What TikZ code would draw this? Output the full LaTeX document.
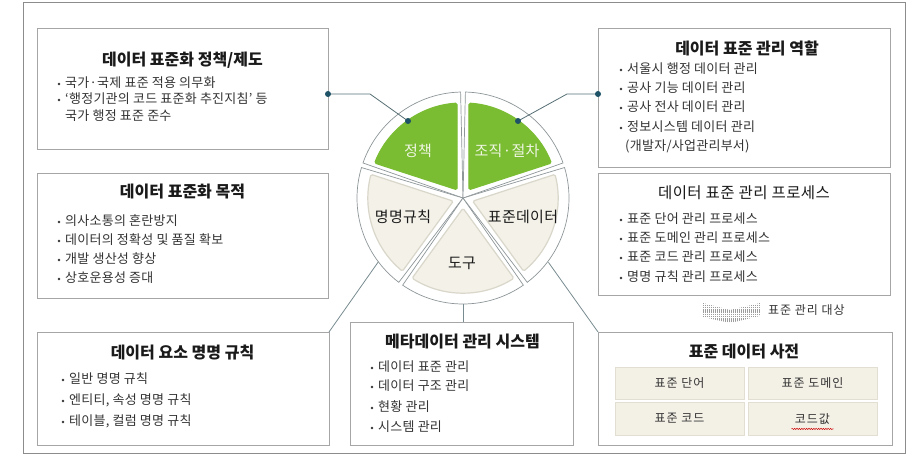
\documentclass[tikz,border=0pt]{standalone}
\usepackage{fontspec}
\setmainfont{Noto Sans CJK KR}
\newfontfamily\krbody[LetterSpace=2]{Noto Sans CJK KR}
\newfontfamily\krttl[LetterSpace=3]{Noto Sans CJK KR}
\newfontfamily\krwide[LetterSpace=8]{Noto Sans CJK KR}
\usetikzlibrary{calc,decorations.pathmorphing}
\definecolor{framecol}{HTML}{8C8C8C}
\definecolor{boxcol}{HTML}{A6A6A6}
\definecolor{txtcol}{HTML}{333333}
\definecolor{titlecol}{HTML}{1A1A1A}
\definecolor{pgreen}{HTML}{7ABC32}
\definecolor{pbeige}{HTML}{F3F1E8}
\definecolor{pbeigeedge}{HTML}{D9D6CA}
\definecolor{sectline}{HTML}{8E9699}
\definecolor{conncol}{HTML}{566E74}
\definecolor{dotcol}{HTML}{1E5266}
\definecolor{cellfill}{HTML}{F3F0E6}
\definecolor{celledge}{HTML}{E2DED2}
\definecolor{hatchcol}{HTML}{9C9C9C}
\definecolor{greentxt}{HTML}{EEF6E2}
\tikzset{
  panel/.style={draw=boxcol, line width=0.8pt, fill=white, inner sep=0pt, outer sep=0pt},
  ttl/.style={font=\fontsize{16}{18}\selectfont\bfseries, text=titlecol, inner sep=0pt},
  ttlreg/.style={font=\krttl\fontsize{15.5}{17}\selectfont, text=titlecol, inner sep=0pt},
  body/.style={font=\krbody\fontsize{13}{15}\selectfont, text=txtcol, inner sep=0pt, anchor=west, text height=0.85em, text depth=0.1em},
  pielbl/.style={font=\krbody\fontsize{15}{17}\selectfont, inner sep=0pt},
  cellbox/.style={draw=celledge, fill=cellfill, line width=0.8pt, inner sep=0pt, minimum width=129pt},
  celltxt/.style={font=\krwide\fontsize{12}{14}\selectfont, text=txtcol},
  conn/.style={draw=conncol, line width=0.8pt},
  sectorouter/.style={draw=sectline, line width=0.7pt, fill=white},
}
\newcommand\bitem[4]{\node[body] (#1) at (#2,#3) {#4};
  \fill[txtcol] ([xshift=-6pt]#1.west) circle (1.3pt);}
\begin{document}
\begin{tikzpicture}[x=1pt,y=1pt]
\useasboundingbox (0,0) rectangle (910,464);
\draw[framecol, line width=1pt] (23,11) rectangle (905,461);

% ---- boxes ----
\node[panel, minimum width=291pt, minimum height=121pt] (b1) at (182.5,375.5) {};
\node[panel, minimum width=291pt, minimum height=125pt] (b2) at (182.5,228.5) {};
\node[panel, minimum width=292pt, minimum height=113pt] (b3) at (183,75.5) {};
\node[panel, minimum width=223pt, minimum height=123pt] (b4) at (461.5,80.5) {};
\node[panel, minimum width=294pt, minimum height=113pt] (b5) at (745,75.5) {};
\node[panel, minimum width=292pt, minimum height=139pt] (r1) at (744,366.5) {};
\node[panel, minimum width=292pt, minimum height=122pt] (r2) at (744,230) {};

% ---- box 1 ----
\node[ttl] (t1) at (182.5,404) {데이터 표준화 정책/제도};
\bitem{b1a}{65}{380}{국가·국제 표준 적용 의무화}
\bitem{b1b}{65}{364}{‘행정기관의 코드 표준화 추진지침’ 등}
\node[body] (b1c) at (65,347) {국가 행정 표준 준수};

% ---- box 2 ----
\node[ttl] (t2) at (182.5,272) {데이터 표준화 목적};
\bitem{b2a}{65}{242}{의사소통의 혼란방지}
\bitem{b2b}{65}{223}{데이터의 정확성 및 품질 확보}
\bitem{b2c}{65}{204}{개발 생산성 향상}
\bitem{b2d}{65}{185}{상호운용성 증대}

% ---- box 3 ----
\node[ttl] (t3) at (182.5,111) {데이터 요소 명명 규칙};
\bitem{b3a}{69}{84}{일반 명명 규칙}
\bitem{b3b}{69}{63}{엔티티, 속성 명명 규칙}
\bitem{b3c}{69}{42}{테이블, 컬럼 명명 규칙}

% ---- box 4 ----
\node[ttl] (t4) at (462.5,122) {메타데이터 관리 시스템};
\bitem{b4a}{378}{96}{데이터 표준 관리}
\bitem{b4b}{378}{77}{데이터 구조 관리}
\bitem{b4c}{378}{56}{현황 관리}
\bitem{b4d}{378}{36}{시스템 관리}

% ---- box 5 ----
\node[ttl] (t5) at (744,112) {표준 데이터 사전};
\node[cellbox, minimum height=32pt] (c1) at (679.5,81) {};
\node[cellbox, minimum height=32pt] (c2) at (812.5,81) {};
\node[cellbox, minimum height=33pt] (c3) at (679.5,45.5) {};
\node[cellbox, minimum height=33pt] (c4) at (812.5,45.5) {};
\node[celltxt] (c1t) at (c1) {표준 단어};
\node[celltxt] (c2t) at (c2) {표준 도메인};
\node[celltxt] (c3t) at (c3) {표준 코드};
\node[celltxt] (c4t) at (c4) {코드값};
\draw[red!80!black, line width=0.5pt, decorate, decoration={snake, amplitude=0.6pt, segment length=2.4pt}]
  ([yshift=-1.5pt]c4t.south west) -- ([yshift=-1.5pt]c4t.south east);

% ---- right box 1 ----
\node[ttl] (t6) at (747,416) {데이터 표준 관리 역할};
\bitem{r1a}{627}{394}{서울시 행정 데이터 관리}
\bitem{r1b}{627}{375}{공사 기능 데이터 관리}
\bitem{r1c}{627}{356}{공사 전사 데이터 관리}
\bitem{r1d}{627}{336}{정보시스템 데이터 관리}
\node[body] (r1e) at (625,317) {(개발자/사업관리부서)};

% ---- right box 2 ----
\node[ttlreg] (t7) at (744,271) {데이터 표준 관리 프로세스};
\bitem{r2a}{627}{244}{표준 단어 관리 프로세스}
\bitem{r2b}{627}{225}{표준 도메인 관리 프로세스}
\bitem{r2c}{627}{206}{표준 코드 관리 프로세스}
\bitem{r2d}{627}{186}{명명 규칙 관리 프로세스}

% ---- hatched chevron ----
\begin{scope}
  \clip (703,161) -- (730,154) -- (760,161) -- (760,148) -- (730,141) -- (703,147) -- cycle;
  \foreach \xx in {703.5,705.5,...,761} {\draw[hatchcol, line width=0.9pt, dash pattern=on 1.2pt off 0.6pt] (\xx,138) -- (\xx,164);}
\end{scope}
\node[body, font=\krwide\fontsize{12}{14}\selectfont] (lbl) at (768,153) {표준 관리 대상};

% ---- pie ----
\coordinate (pc) at (463,266);
\foreach \a/\fc/\ec in {90/pgreen/pgreen,162/pbeige/pbeigeedge,234/pbeige/pbeigeedge,306/pbeige/pbeigeedge,18/pgreen/pgreen}{
  \draw[sectorouter] (pc) -- ++(\a+1.3:106) arc[start angle=\a+1.3, end angle=\a+70.7, radius=106] -- cycle;
  \filldraw[fill=\fc, draw=\ec, line width=1.2pt, rounded corners=1.5pt]
    ($(pc)+(\a+36:10.2)$) -- ($(pc)+(\a+3.6:95)$) arc[start angle=\a+3.6, end angle=\a+68.4, radius=95] -- cycle;
}
\node[pielbl, text=greentxt] (s1) at (418,313) {정책};
\node[pielbl, text=greentxt] (s2) at (507,313) {조직·절차};
\node[pielbl, text=titlecol] (s3) at (403,247) {명명규칙};
\node[pielbl, text=titlecol] (s4) at (523,247) {표준데이터};
\node[pielbl, text=titlecol] (s5) at (462,201) {도구};

% ---- connectors ----
\coordinate (d1) at (408,343);
\coordinate (e1) at (370,370);
\coordinate (d2) at (518,343);
\coordinate (e2) at (567,370);
\draw[conn] (d1) -- (e1) -- (e1 -| b1.east);
\draw[conn] (d2) -- (e2) -- (e2 -| r1.west);
\fill[dotcol] (d1) circle (3pt);
\fill[dotcol] (e1 -| b1.east) circle (3pt);
\fill[dotcol] (d2) circle (3pt);
\fill[dotcol] (e2 -| r1.west) circle (3pt);
\coordinate (p3) at ($(pc)+(217:106)$);
\coordinate (p4) at ($(pc)+(270:106)$);
\coordinate (p5) at ($(pc)+(323:107)$);
\draw[conn, draw=conncol!80] (p3) -- (b3.north east);
\draw[conn, draw=conncol!80] (p4) -- (p4 |- b4.north);
\draw[conn, draw=conncol!80] (p5) -- (b5.north west);
\end{tikzpicture}
\end{document}
